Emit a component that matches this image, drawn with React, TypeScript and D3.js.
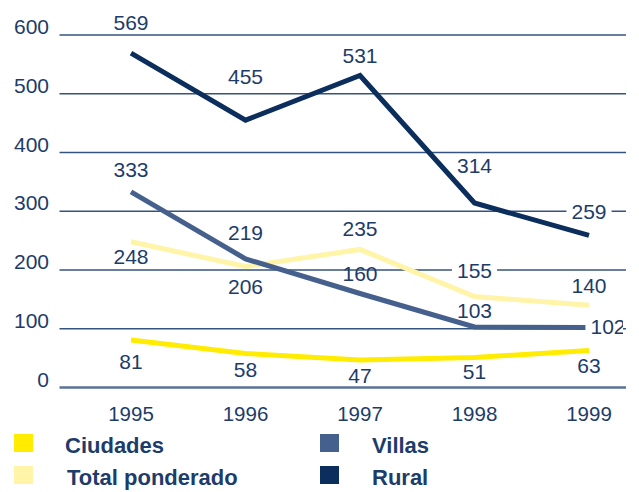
import React from 'react';
import * as d3 from 'd3';

const years = ['1995', '1996', '1997', '1998', '1999'];
const yTicks = [0, 100, 200, 300, 400, 500, 600];

const ciudades = [81, 58, 47, 51, 63];
const totalPonderado = [248, 206, 235, 155, 140];
const villas = [333, 219, 160, 103, 102];
const rural = [569, 455, 531, 314, 259];

const W = 639, H = 492;
const TEXT = '#1d3c69';
const NUM_FONT = '"Liberation Sans", Arial, sans-serif';

// series in drawing order (back to front)
const series = [
  { name: 'Ciudades', values: ciudades, color: '#ffec00' },
  { name: 'Total ponderado', values: totalPonderado, color: '#fff4a8' },
  { name: 'Villas', values: villas, color: '#46608d' },
  { name: 'Rural', values: rural, color: '#0b2e5c' },
];

// label placement per series: [dx, dy, white background]
const labelPos: Record<string, [number, number, boolean][]> = {
  Ciudades: [[0, 29, false], [0, 24, false], [0, 23, false], [0, 21, false], [0, 23, false]],
  'Total ponderado': [[0, 22, false], [0, 28, false], [0, -13, false], [0, -18, true], [0, -12, false]],
  Villas: [[0, -15, false], [0, -19, false], [0, -13, false], [0, -9, false], [19, 6, true]],
  Rural: [[0, -23, false], [0, -36, false], [0, -13, false], [0, -30, false], [0, -16, true]],
};

export default function App() {
  const x = d3.scalePoint<string>().domain(years).range([131, 589]);
  const y = d3.scaleLinear().domain([0, 600]).range([387.5, 35]);
  const line = d3.line<number>().x((_, i) => x(years[i])!).y(d => y(d));

  const legend = [
    { s: series[0], lx: 14, ly: 434, tx: 65, ty: 453 },
    { s: series[1], lx: 14, ly: 466, tx: 67, ty: 485 },
    { s: series[2], lx: 320, ly: 434, tx: 372, ty: 453 },
    { s: series[3], lx: 320, ly: 466, tx: 372, ty: 485 },
  ];

  return (
    <svg width={W} height={H} style={{ position: 'absolute', left: 0, top: 0, background: '#fff' }}>
      <defs>
        <clipPath id="plotclip"><rect x={0} y={0} width={623} height={H} /></clipPath>
      </defs>
      {yTicks.map(t => (
        <g key={t}>
          <line x1={59.5} x2={626} y1={y(t)} y2={y(t)}
            stroke={t === 0 ? '#587399' : '#34537f'} strokeWidth={t === 0 ? 2.5 : 1.5} />
          <text x={49} y={y(t) - 1} textAnchor="end" fontFamily={NUM_FONT} fontSize={21} fill={TEXT}>{t}</text>
        </g>
      ))}
      {years.map(yr => (
        <text key={yr} x={x(yr)} y={421} textAnchor="middle" fontFamily={NUM_FONT} fontSize={20.5} fill={TEXT}>{yr}</text>
      ))}
      {series.map(s => (
        <path key={s.name} d={line(s.values)!} fill="none" stroke={s.color} strokeWidth={5} />
      ))}
      <g clipPath="url(#plotclip)">
        {series.map(s => s.values.map((v, i) => {
          const [dx, dy, bg] = labelPos[s.name][i];
          const cx = x(years[i])! + dx;
          const by = y(v) + dy;
          const w = String(v).length * 11.7;
          return (
            <g key={s.name + i}>
              {bg && <rect x={cx - w / 2 - 5} y={by - 17} width={w + 10} height={19} fill="#fff" />}
              <text x={cx} y={by} textAnchor="middle" fontFamily={NUM_FONT} fontSize={21} fill={TEXT}>{v}</text>
            </g>
          );
        }))}
      </g>
      {legend.map(l => (
        <g key={l.s.name}>
          <rect x={l.lx} y={l.ly} width={19} height={18} fill={l.s.color} />
          <text x={l.tx} y={l.ty} fontFamily={NUM_FONT} fontWeight="bold" fontSize={22} fill={TEXT}>{l.s.name}</text>
        </g>
      ))}
    </svg>
  );
}
